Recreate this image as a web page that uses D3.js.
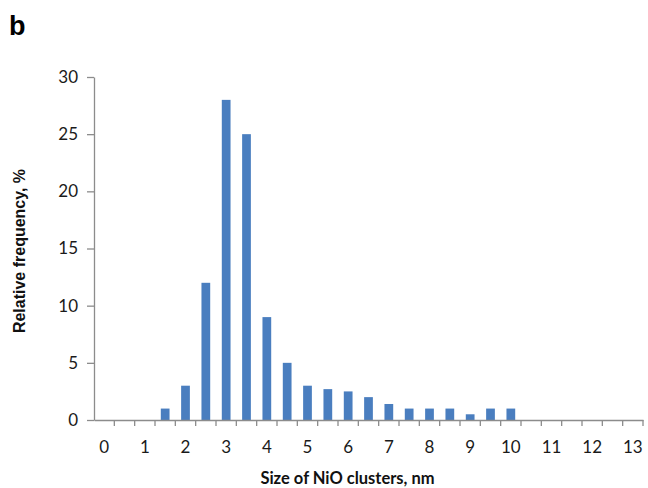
<!DOCTYPE html>
<html>
<head>
<meta charset="utf-8">
<script src="https://cdn.jsdelivr.net/npm/d3@7"></script>
<style>
  body { margin: 0; background: #fff; }
  svg { font-family: Lato, "Open Sans", sans-serif; }
</style>
</head>
<body>
<div id="chart"></div>
<script>
// cluster size bins (nm), every half nanometre
const sizes = d3.range(0, 13.5, 0.5);
// relative frequency (%) per bin
const freq = [0, 0, 0, 1, 3, 12, 28, 25, 9, 5, 3, 2.7, 2.5, 2, 1.4, 1, 1, 1, 0.5, 1, 1, 0, 0, 0, 0, 0, 0];
const yTicks = [0, 5, 10, 15, 20, 25, 30];

const W = 648, H = 488;
const margin = { top: 77, right: 5, bottom: 68, left: 94 };
const width = 549, height = 343;

const data = sizes.map((s, i) => ({ size: s, value: freq[i] }));

const svg = d3.select('#chart').append('svg')
  .attr('width', W)
  .attr('height', H);

const g = svg.append('g')
  .attr('transform', `translate(${margin.left}, ${margin.top})`);

const x = d3.scaleBand()
  .domain(sizes)
  .range([0, width])
  .paddingInner(0.57)
  .paddingOuter(0.285);

const y = d3.scaleLinear().domain([0, 30]).range([height, 0]);

const axisColor = '#8c8c8c';

// bars
g.selectAll('.bar')
  .data(data.filter(d => d.value > 0))
  .enter()
  .append('rect')
  .attr('class', 'bar')
  .attr('x', d => x(d.size))
  .attr('y', d => y(d.value))
  .attr('width', x.bandwidth())
  .attr('height', d => height - y(d.value))
  .style('fill', '#4a7ebf');

// y axis
const yAxis = g.append('g')
  .attr('class', 'axis axis-y')
  .call(d3.axisLeft(y).tickValues(yTicks).tickSize(7).tickSizeOuter(0).tickPadding(9));

// x axis: labels on the whole-nm bins, tick marks on bin edges
const xAxis = g.append('g')
  .attr('class', 'axis axis-x')
  .attr('transform', `translate(0, ${height})`)
  .call(d3.axisBottom(x)
    .tickValues(sizes.filter(s => Number.isInteger(s)))
    .tickSize(0)
    .tickSizeOuter(0)
    .tickPadding(21));

xAxis.selectAll('.tick text').attr('dy', '0.71em');

const edges = d3.range(0, sizes.length + 1).map(i => i * x.step());
xAxis.selectAll('.edge')
  .data(edges.slice(1))
  .enter()
  .append('line')
  .attr('class', 'edge')
  .attr('x1', d => d)
  .attr('x2', d => d)
  .attr('y1', 0)
  .attr('y2', 6)
  .attr('stroke', axisColor);

svg.selectAll('.axis path, .axis line').attr('stroke', axisColor).attr('stroke-width', 1.3);
svg.selectAll('.axis text').attr('fill', '#1a1a1a').style('font-size', '17px').style('font-family', 'Lato, sans-serif');

// axis titles
svg.append('text')
  .attr('x', margin.left + width / 2 - 21)
  .attr('y', 484)
  .attr('text-anchor', 'middle')
  .style('font-size', '16.5px')
  .style('font-weight', 'bold')
  .attr('fill', '#111')
  .text('Size of NiO clusters, nm');

svg.append('text')
  .attr('transform', 'translate(25, 251) rotate(-90)')
  .attr('text-anchor', 'middle')
  .style('font-family', '"Liberation Sans", Arial, sans-serif')
  .style('font-size', '16px')
  .style('font-weight', 'bold')
  .attr('fill', '#111')
  .text('Relative frequency, %');

// panel letter
svg.append('text')
  .attr('x', 9)
  .attr('y', 35)
  .style('font-family', '"Liberation Sans", Arial, sans-serif')
  .style('font-size', '27px')
  .style('font-weight', 'bold')
  .attr('fill', '#000')
  .text('b');
</script>
</body>
</html>
